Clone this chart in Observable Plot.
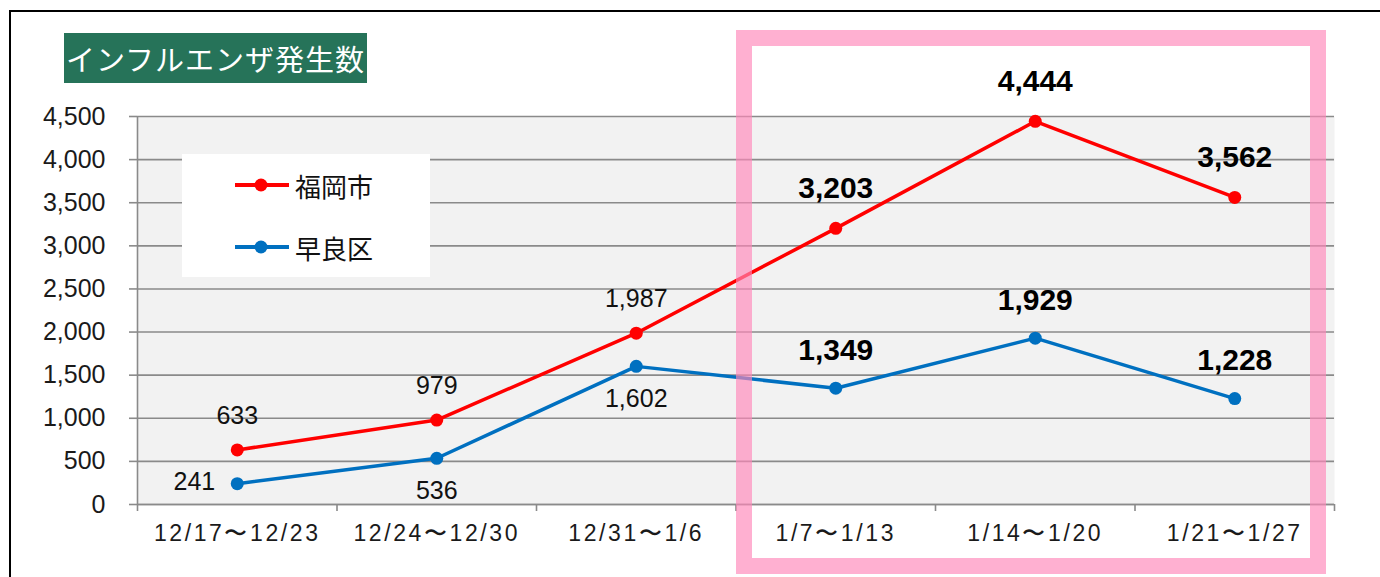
<!DOCTYPE html>
<html>
<head>
<meta charset="utf-8">
<script src="https://cdn.jsdelivr.net/npm/d3@7"></script>
<script src="https://cdn.jsdelivr.net/npm/@observablehq/plot@0.6"></script>
<style>
  html, body { margin: 0; padding: 0; background: #fff; }
  #wrap { position: relative; width: 1380px; height: 577px; overflow: hidden; background: #fff; }
  #border { position: absolute; left: 9px; top: 10px; width: 1450px; height: 650px; border-top: 2px solid #000; border-left: 2px solid #000; box-sizing: border-box; }
  #title { position: absolute; left: 64px; top: 33px; width: 303px; height: 50px; background: #267359; color: #fff;
           font-family: "Noto Sans CJK JP", sans-serif; font-size: 29px; line-height: 50px; text-align: center; letter-spacing: 1px; }
  #legend { position: absolute; left: 182px; top: 154px; width: 248px; height: 123px; background: #fff; }
  .item { position: absolute; left: 52px; height: 30px; display: flex; align-items: center;
          font-family: "Noto Sans CJK JP", sans-serif; font-size: 26px; color: #111; }
  .item svg { margin-right: 5px; }
  #chart { position: absolute; left: 0; top: 0; }
  #chart g[aria-label="x-axis tick label"] text { letter-spacing: 2.6px; }
  #frame { position: absolute; left: 736px; top: 30px; width: 590px; height: 544px; box-sizing: border-box;
           border: 16px solid rgba(255, 135, 185, 0.66); pointer-events: none; }
</style>
</head>
<body>
<div id="wrap">
  <div id="border"></div>
  <div id="chart"></div>
  <div id="title">インフルエンザ発生数</div>
  <div id="legend"></div>
  <div id="frame"></div>
</div>
<script>
const categories = ["12/17〜12/23", "12/24〜12/30", "12/31〜1/6", "1/7〜1/13", "1/14〜1/20", "1/21〜1/27"];
const seriesNames = ["福岡市", "早良区"];
const seriesColors = ["#ff0000", "#0070c0"];
const fukuoka = [633, 979, 1987, 3203, 4444, 3562];
const sawara = [241, 536, 1602, 1349, 1929, 1228];
const yTicks = [0, 500, 1000, 1500, 2000, 2500, 3000, 3500, 4000, 4500];

const fmt = d3.format(",");
const red = categories.map((c, i) => ({i, name: seriesNames[0], v: fukuoka[i]}));
const blue = categories.map((c, i) => ({i, name: seriesNames[1], v: sawara[i]}));
const rows = red.concat(blue);
const boundaries = d3.range(categories.length + 1).map(k => k - 0.5);
const centers = d3.range(categories.length);
const gray = "#8a8a8a";

const chart = Plot.plot({
  width: 1380,
  height: 577,
  marginLeft: 137,
  marginRight: 46,
  marginTop: 116,
  marginBottom: 73,
  x: {type: "linear", domain: [-0.5, categories.length - 0.5]},
  y: {domain: [0, 4500]},
  color: {domain: seriesNames, range: seriesColors},
  style: {fontFamily: "Liberation Sans, Arial, sans-serif", background: "transparent", overflow: "visible"},
  marks: [
    Plot.frame({fill: "#f2f2f2", stroke: null}),
    Plot.gridY(yTicks, {stroke: gray, strokeOpacity: 1, strokeWidth: 1.6}),
    Plot.ruleX([-0.5], {stroke: gray, strokeWidth: 1.6}),
    Plot.ruleY([0], {stroke: gray, strokeWidth: 1.6}),
    Plot.axisY({ticks: yTicks, tickSize: 8, tickPadding: 24, tickFormat: fmt, fontSize: 25, stroke: gray, strokeWidth: 1.6, fill: "#1a1a1a", label: null}),
    Plot.axisX({ticks: boundaries, tickSize: 7, tickFormat: () => "", stroke: gray, strokeWidth: 1.6, label: null}),
    Plot.axisX({ticks: centers, tickSize: 0, tickPadding: 20, tickFormat: i => categories[i], fontSize: 23, fill: "#1a1a1a", label: null}),
    Plot.line(rows, {x: "i", y: "v", z: "name", stroke: "name", strokeWidth: 3.5}),
    Plot.dot(rows, {x: "i", y: "v", fill: "name", r: 6.5}),
    Plot.text(red.filter(d => d.i < 3), {x: "i", y: "v", text: d => fmt(d.v), dy: -34, fontSize: 25, fill: "#111"}),
    Plot.text(red.filter(d => d.i >= 3), {x: "i", y: "v", text: d => fmt(d.v), dy: -40, fontSize: 30, fontWeight: "bold", fill: "#000"}),
    Plot.text(blue.filter(d => d.i === 0), {x: "i", y: "v", text: d => fmt(d.v), dx: -22, dy: -2, textAnchor: "end", fontSize: 25, fill: "#111"}),
    Plot.text(blue.filter(d => d.i === 1 || d.i === 2), {x: "i", y: "v", text: d => fmt(d.v), dy: 33, fontSize: 25, fill: "#111"}),
    Plot.text(blue.filter(d => d.i >= 3), {x: "i", y: "v", text: d => fmt(d.v), dy: -38, fontSize: 30, fontWeight: "bold", fill: "#000"})
  ]
});
document.getElementById("chart").appendChild(chart);

// legend
const legend = document.getElementById("legend");
seriesNames.forEach((name, k) => {
  const item = document.createElement("div");
  item.className = "item";
  item.style.top = (16 + k * 62) + "px";
  item.innerHTML = `<svg width="56" height="30"><line x1="1" y1="15" x2="55" y2="15" stroke="${seriesColors[k]}" stroke-width="4"/><circle cx="27" cy="15" r="6.5" fill="${seriesColors[k]}"/></svg><span>${name}</span>`;
  legend.appendChild(item);
});
</script>
</body>
</html>
